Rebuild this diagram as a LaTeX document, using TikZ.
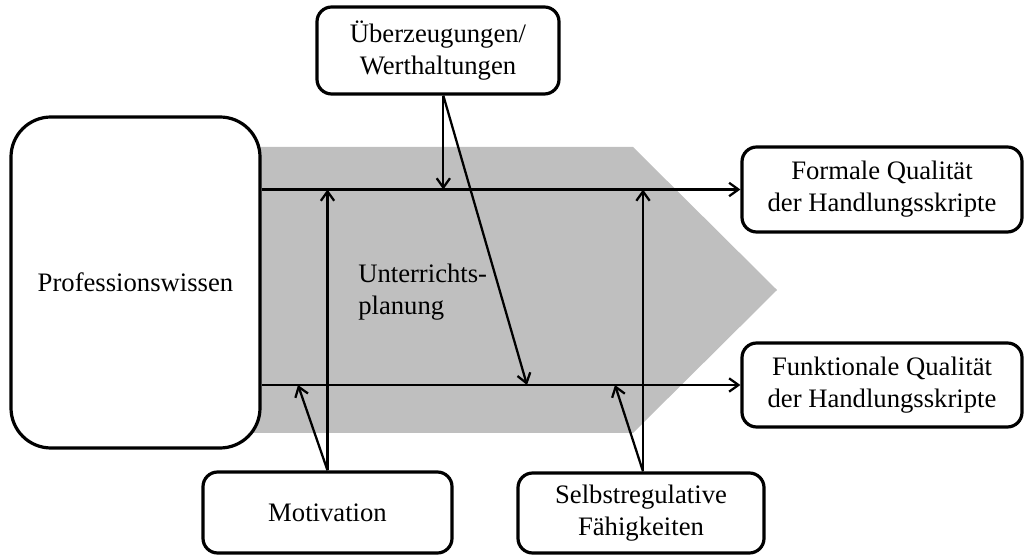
\documentclass[tikz,border=0pt]{standalone}
\usepackage{fontspec}
\setmainfont{Liberation Serif}
\usetikzlibrary{arrows.meta}

\tikzset{
  box/.style={draw, line width=2.4pt, rounded corners=11pt, fill=white, align=center,
              inner sep=0pt, font=\fontsize{20}{24}\selectfont},
  flow/.style={line width=1.7pt, -{Straight Barb[length=7pt,width=10pt,line width=1.7pt]}}
}

\begin{document}
\begin{tikzpicture}[x=0.75pt, y=-0.75pt]
            \useasboundingbox (0,0) rectangle (1024,555);

            % shaded arrow
            \fill[gray!50] (250,147) -- (633,147) -- (777,290) -- (633,433) -- (250,433) -- cycle;

            % boxes
            \node[box, rounded corners=30pt, minimum width=186.75pt, minimum height=248.25pt] (prof) at (135.5,282.5) {Professionswissen};
            \node[box, minimum width=181.5pt, minimum height=65.25pt] (ueber) at (438,50.5) {Überzeugungen/\\Werthaltungen};
            \node[box, minimum width=210pt, minimum height=63.75pt] (formal) at (882,189.5) {Formale Qualität\\der Handlungsskripte};
            \node[box, minimum width=210pt, minimum height=63pt] (funkt) at (882,385) {Funktionale Qualität\\der Handlungsskripte};
            \node[box, minimum width=186.75pt, minimum height=60.75pt] (motiv) at (327.5,512.5) {Motivation};
            \node[box, minimum width=184.5pt, minimum height=60pt] (selbst) at (641,513) {Selbstregulative\\Fähigkeiten};

            \node[align=left, anchor=west, inner sep=0pt, font=\fontsize{20}{24}\selectfont] (plan) at (358,292) {Unterrichts-\\planung};

            % main flow
            \draw[flow] (prof.east |- formal.west) -- (formal.west);
            \draw[flow] (prof.east |- funkt.west) -- (funkt.west);

            % influences
            \coordinate (ueberhit) at (527,385);
            \coordinate (motivhit) at (298,385);
            \coordinate (selbsthit) at (615,385);
            \draw[flow] ([xshift=4pt]ueber.south) -- ([xshift=4pt]ueber.south |- formal.west);
            \draw[flow] ([xshift=4pt]ueber.south) -- (ueberhit);
            \draw[flow] (motiv.north) -- (motiv.north |- formal.west);
            \draw[flow] (motiv.north) -- (motivhit);
            \draw[flow] ([xshift=1.5pt]selbst.north) -- ([xshift=1.5pt]selbst.north |- formal.west);
            \draw[flow] ([xshift=1.5pt]selbst.north) -- (selbsthit);
        \end{tikzpicture}
\end{document}
